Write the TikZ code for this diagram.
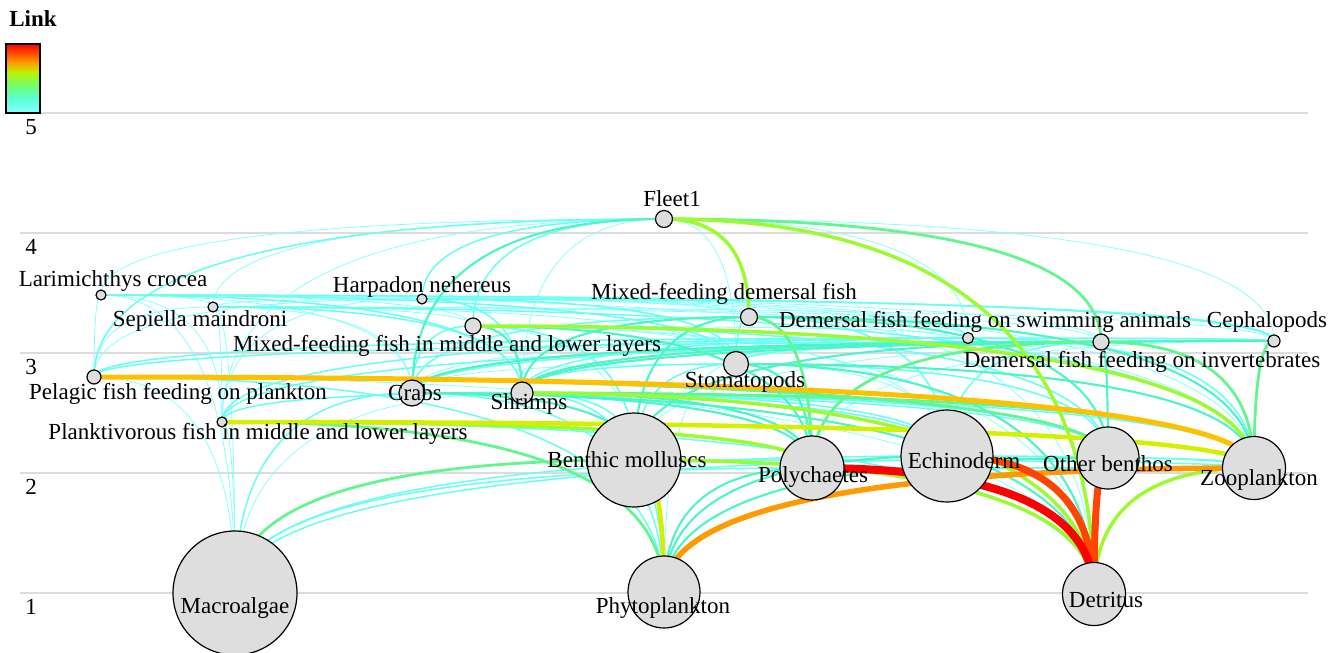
\documentclass[tikz,border=0pt]{standalone}
\usepackage{fontspec}
\setmainfont{Liberation Serif}
\usetikzlibrary{calc,backgrounds}
\definecolor{ndgray}{HTML}{DEDEDE}
\definecolor{gridgray}{HTML}{DCDCDC}
\definecolor{c1}{HTML}{8AFFFF}
\definecolor{c2}{HTML}{66FFF2}
\definecolor{c3}{HTML}{4CF5C8}
\definecolor{c4}{HTML}{62F590}
\definecolor{c5}{HTML}{9CFA30}
\definecolor{c6}{HTML}{D4F000}
\definecolor{c7}{HTML}{FFC000}
\definecolor{c8}{HTML}{FF9A00}
\definecolor{c9}{HTML}{FF4400}
\definecolor{c10}{HTML}{FF0000}
\pgfdeclareverticalshading{linkbar}{100bp}{rgb(0bp)=(0.55,1,1); rgb(25bp)=(0.55,1,1); rgb(35bp)=(0.35,1,0.85); rgb(45.6bp)=(0.45,1,0.4); rgb(54.4bp)=(0.75,0.95,0); rgb(61.8bp)=(1,0.6,0); rgb(75bp)=(1,0,0); rgb(100bp)=(1,0,0)}
% quadratic link from centre to centre: vertical at the lower node (#2), horizontal at the upper node (#3)
\newcommand{\lk}[3]{%
  \draw[#1] (#2.center) .. controls ($(#2.center)!0.6667!(#2.center |- #3.center)$) and ($(#3.center)!0.6667!(#2.center |- #3.center)$) .. (#3.center);
}
\begin{document}
\begin{tikzpicture}[x=1pt,y=-1pt,
  nd/.style={circle,draw=black,line width=1.2pt,fill=ndgray,inner sep=0pt,minimum size=#1},
  lb/.style={font=\fontsize{23}{27}\selectfont,anchor=base,inner sep=0pt},
  gridln/.style={draw=gridgray,line width=1.3pt},
  e1/.style={draw=c1,line width=0.8pt},
  e2/.style={draw=c2,line width=1.5pt},
  e3/.style={draw=c3,line width=2.1pt},
  e4/.style={draw=c4,line width=2.8pt},
  e5/.style={draw=c5,line width=3.5pt},
  e6/.style={draw=c6,line width=4.5pt},
  e7/.style={draw=c7,line width=5pt},
  e8/.style={draw=c8,line width=5.5pt},
  e9/.style={draw=c9,line width=7pt},
  e10/.style={draw=c10,line width=8pt}]
\useasboundingbox (0,0) rectangle (1341,653);
% nodes
\node[nd=17pt] (F) at (664,219) {};
\node[nd=10pt] (LC) at (101,295) {};
\node[nd=10pt] (SM) at (213,307) {};
\node[nd=10pt] (HN) at (422,299) {};
\node[nd=16pt] (MFML) at (473,326) {};
\node[nd=17pt] (MFD) at (749,317) {};
\node[nd=11pt] (DFSA) at (968,338) {};
\node[nd=12pt] (CE) at (1274,341) {};
\node[nd=16pt] (DFFI) at (1101,342) {};
\node[nd=25pt] (ST) at (736,364) {};
\node[nd=14pt] (PF) at (94,377) {};
\node[nd=26pt] (CR) at (412,393) {};
\node[nd=22pt] (SH) at (522,393) {};
\node[nd=10pt] (PL) at (222,422) {};
\node[nd=94pt] (BM) at (634,460) {};
\node[nd=64pt] (PO) at (812,468) {};
\node[nd=92pt] (EC) at (947,456) {};
\node[nd=62pt] (OB) at (1108,458) {};
\node[nd=63pt] (ZO) at (1254,468) {};
\node[nd=124pt] (MA) at (235,593) {};
\node[nd=72pt] (PH) at (664,592) {};
\node[nd=63pt] (DE) at (1094,594) {};
% labels
\node[lb] (tF) at (672,206) {Fleet1};
\node[lb] (tLC) at (113,286) {Larimichthys crocea};
\node[lb] (tSM) at (200,326) {Sepiella maindroni};
\node[lb] (tHN) at (422,292) {Harpadon nehereus};
\node[lb] (tMFML) at (447,351) {Mixed-feeding fish in middle and lower layers};
\node[lb] (tMFD) at (724,299) {Mixed-feeding demersal fish};
\node[lb] (tDFSA) at (985,327) {Demersal fish feeding on swimming animals};
\node[lb] (tCE) at (1267,327) {Cephalopods};
\node[lb] (tDFFI) at (1142,367) {Demersal fish feeding on invertebrates};
\node[lb] (tST) at (745,387) {Stomatopods};
\node[lb] (tPF) at (178,399) {Pelagic fish feeding on plankton};
\node[lb] (tCR) at (415,400) {Crabs};
\node[lb] (tSH) at (529,409) {Shrimps};
\node[lb] (tPL) at (258,439) {Planktivorous fish in middle and lower layers};
\node[lb] (tBM) at (627,467) {Benthic molluscs};
\node[lb] (tPO) at (813,482) {Polychaetes};
\node[lb] (tEC) at (964,468) {Echinoderm};
\node[lb] (tOB) at (1108,471) {Other benthos};
\node[lb] (tZO) at (1259,485) {Zooplankton};
\node[lb] (tMA) at (235,613) {Macroalgae};
\node[lb] (tPH) at (663,613) {Phytoplankton};
\node[lb] (tDE) at (1106,607) {Detritus};
% axis labels
\node[lb] (y5) at (31,134) {5};
\node[lb] (y4) at (31,254) {4};
\node[lb] (y3) at (31,374) {3};
\node[lb] (y2) at (31,494) {2};
\node[lb] (y1) at (31,614) {1};
% legend
\node[lb,font=\fontsize{23}{27}\selectfont\bfseries] (lgT) at (33,27) {Link};
\shade[shading=linkbar] (6,44) rectangle (40,113);
\draw[line width=1.2pt] (6,44) rectangle (40,113);
\begin{pgfonlayer}{background}
\foreach \yy in {113,233,353,473,593} \draw[gridln] (20,\yy) -- (1308,\yy);
% ---- level 1
\lk{e1}{LC}{F}
\lk{e1}{SM}{F}
\lk{e1}{PL}{F}
\lk{e1}{SH}{F}
\lk{e1}{ST}{F}
\lk{e1}{DFSA}{F}
\lk{e1}{CE}{F}
\lk{e1}{CR}{LC}
\lk{e1}{HN}{LC}
\lk{e1}{MFML}{LC}
\lk{e1}{DFSA}{LC}
\lk{e1}{ZO}{LC}
\lk{e1}{MFD}{LC}
\lk{e1}{DFFI}{LC}
\lk{e1}{PF}{LC}
\lk{e1}{PL}{LC}
\lk{e1}{SM}{LC}
\lk{e1}{ST}{SM}
\lk{e1}{CR}{SM}
\lk{e1}{PF}{SM}
\lk{e1}{PL}{SM}
\lk{e1}{CE}{SM}
\lk{e1}{MFML}{SM}
\lk{e1}{DFSA}{SM}
\lk{e1}{DFFI}{SM}
\lk{e1}{PF}{HN}
\lk{e1}{PL}{HN}
\lk{e1}{ZO}{HN}
\lk{e1}{DFSA}{HN}
\lk{e1}{MFD}{HN}
\lk{e1}{SM}{HN}
\lk{e1}{ST}{MFML}
\lk{e1}{EC}{MFML}
\lk{e1}{DE}{MFML}
\lk{e1}{DE}{MFD}
\lk{e1}{DFSA}{MFD}
\lk{e1}{DFSA}{MFML}
\lk{e1}{CR}{DFSA}
\lk{e1}{ST}{CE}
\lk{e1}{BM}{CE}
\lk{e1}{PO}{CE}
\lk{e1}{CR}{ST}
\lk{e1}{EC}{ST}
\lk{e1}{CR}{SH}
\lk{e1}{MA}{SH}
\lk{e1}{DE}{PF}
\lk{e1}{MA}{PF}
\lk{e1}{MA}{PL}
\lk{e1}{MA}{SM}
\lk{e1}{MA}{LC}
\lk{e1}{PO}{BM}
\lk{e1}{PH}{ST}
\lk{e1}{PH}{MFML}
% ---- level 2
\lk{e2}{PF}{F}
\lk{e2}{HN}{F}
\lk{e2}{MFML}{F}
\lk{e2}{SH}{LC}
\lk{e2}{ST}{LC}
\lk{e2}{CE}{LC}
\lk{e2}{SH}{SM}
\lk{e2}{ZO}{SM}
\lk{e2}{SH}{HN}
\lk{e2}{ST}{HN}
\lk{e2}{CE}{HN}
\lk{e2}{CR}{MFML}
\lk{e2}{BM}{MFML}
\lk{e2}{OB}{MFML}
\lk{e2}{CR}{MFD}
\lk{e2}{ST}{MFD}
\lk{e2}{EC}{MFD}
\lk{e2}{SH}{DFSA}
\lk{e2}{ST}{DFSA}
\lk{e2}{PF}{DFSA}
\lk{e2}{PL}{DFSA}
\lk{e2}{CE}{DFSA}
\lk{e2}{ZO}{DFSA}
\lk{e2}{CR}{CE}
\lk{e2}{PF}{CE}
\lk{e2}{PL}{CE}
\lk{e2}{ST}{DFFI}
\lk{e2}{EC}{DFFI}
\lk{e2}{SH}{ST}
\lk{e2}{BM}{ST}
\lk{e2}{OB}{ST}
\lk{e2}{EC}{CR}
\lk{e2}{OB}{CR}
\lk{e2}{ZO}{CR}
\lk{e2}{MA}{CR}
\lk{e2}{PH}{CR}
\lk{e2}{BM}{SH}
\lk{e2}{EC}{SH}
\lk{e2}{OB}{SH}
\lk{e2}{PH}{SH}
\lk{e2}{PH}{PF}
\lk{e2}{DE}{PL}
\lk{e2}{PL}{SH}
\lk{e2}{ZO}{BM}
\lk{e2}{MA}{PO}
\lk{e2}{MA}{EC}
\lk{e2}{MA}{OB}
\lk{e2}{PO}{ZO}
\lk{e2}{ZO}{EC}
\lk{e2}{ZO}{OB}
% ---- level 3
\lk{e3}{CR}{F}
\lk{e3}{SH}{MFML}
\lk{e3}{PO}{MFML}
\lk{e3}{SH}{MFD}
\lk{e3}{BM}{MFD}
\lk{e3}{OB}{MFD}
\lk{e3}{ZO}{MFD}
\lk{e3}{SH}{CE}
\lk{e3}{SH}{DFFI}
\lk{e3}{CR}{DFFI}
\lk{e3}{BM}{DFFI}
\lk{e3}{OB}{DFFI}
\lk{e3}{PO}{ST}
\lk{e3}{ZO}{ST}
\lk{e3}{DE}{ST}
\lk{e3}{BM}{CR}
\lk{e3}{PO}{CR}
\lk{e3}{DE}{CR}
\lk{e3}{PO}{SH}
\lk{e3}{PH}{PO}
\lk{e3}{PH}{EC}
\lk{e3}{PH}{OB}
% ---- level 4
\lk{e4}{DFFI}{F}
\lk{e4}{PO}{MFD}
\lk{e4}{ZO}{CE}
\lk{e4}{PO}{DFFI}
\lk{e4}{ZO}{DFFI}
\lk{e4}{ZO}{SH}
\lk{e4}{OB}{PF}
\lk{e4}{PH}{PL}
\lk{e4}{MA}{BM}
% ---- level 5
\lk{e5}{MFD}{F}
\lk{e5}{DE}{F}
\lk{e5}{ZO}{MFML}
\lk{e5}{DE}{SH}
\lk{e5}{PO}{PL}
\lk{e5}{DE}{BM}
\lk{e5}{DE}{ZO}
% ---- levels 6-10
\lk{e6}{ZO}{PL}
\lk{e6}{PH}{BM}
\lk{e7}{ZO}{PF}
\lk{e8}{PH}{ZO}
\lk{e9}{DE}{EC}
\lk{e9}{DE}{OB}
\lk{e10}{DE}{PO}
\end{pgfonlayer}
\end{tikzpicture}
\end{document}
